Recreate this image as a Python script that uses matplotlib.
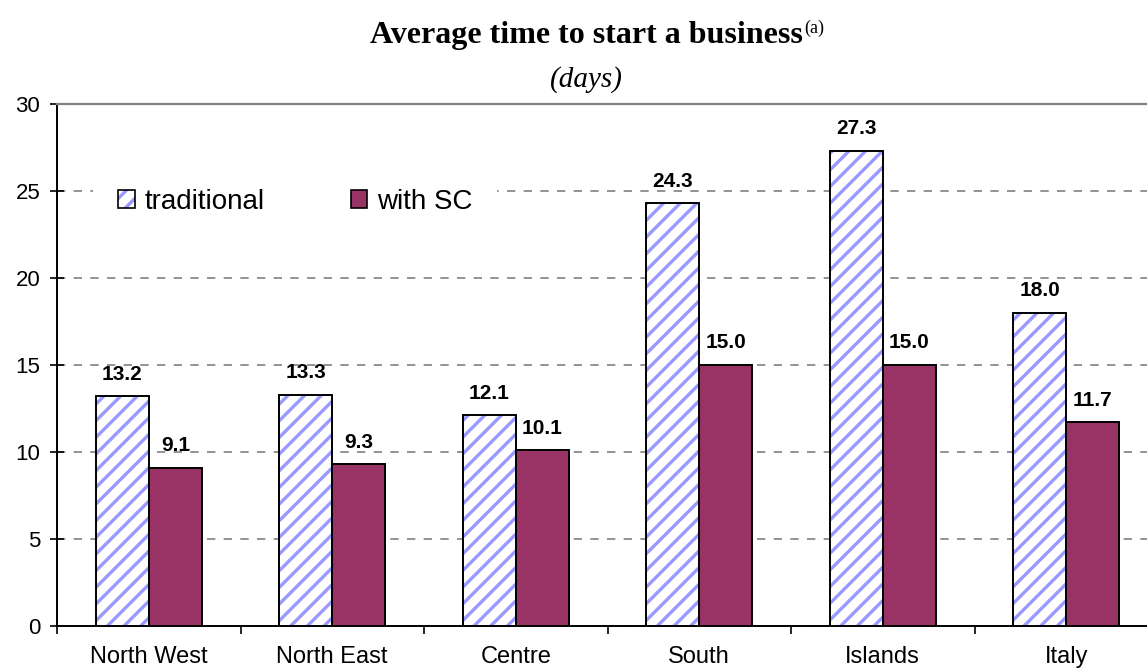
import matplotlib
matplotlib.use('Agg')
import matplotlib.pyplot as plt
from matplotlib.patches import Patch
from matplotlib.legend_handler import HandlerTuple
import numpy as np

# data
regions = ['North West', 'North East', 'Centre', 'South', 'Islands', 'Italy']
traditional = [13.2, 13.3, 12.1, 24.3, 27.3, 18.0]
with_sc = [9.1, 9.3, 10.1, 15.0, 15.0, 11.7]

hatch_blue = '#9999FF'
purple = '#993366'

plt.rcParams['font.family'] = ['Liberation Sans', 'DejaVu Sans']
plt.rcParams['hatch.linewidth'] = 2.4

fig = plt.figure(figsize=(11.47, 6.70), dpi=100)
ax = fig.add_axes([57/1147, 44/670, 1101/1147, 522/670])

x = np.arange(len(regions))
w = 0.29

# hatched bars drawn as two layers: blue hatch, then black outline
ax.bar(x - w/2, traditional, w, color='white', edgecolor=hatch_blue,
       hatch='//', linewidth=0, zorder=3)
ax.bar(x - w/2, traditional, w, fill=False, edgecolor='black',
       linewidth=1.4, zorder=4)
ax.bar(x + w/2, with_sc, w, color=purple, edgecolor='black',
       linewidth=1.4, zorder=3)

for xi, v in zip(x - w/2, traditional):
    ax.annotate(f'{v:.1f}', (xi, v), xytext=(0, 12), textcoords='offset points',
                ha='center', va='baseline', fontsize=15, fontweight='bold')
for xi, v in zip(x + w/2, with_sc):
    ax.annotate(f'{v:.1f}', (xi, v), xytext=(0, 12), textcoords='offset points',
                ha='center', va='baseline', fontsize=15, fontweight='bold')

ax.set_xlim(-0.5, len(regions) - 0.5)
ax.set_ylim(0, 30)
ax.set_yticks(range(0, 31, 5))
ax.yaxis.grid(True, linestyle=(0, (5, 5)), color='#808080', linewidth=1.2)
ax.set_axisbelow(True)

ax.set_xticks(np.arange(-0.5, len(regions), 1))
ax.set_xticklabels([])
ax.set_xticks(x, minor=True)
ax.set_xticklabels(regions, minor=True)
ax.tick_params(axis='x', which='major', direction='out', length=6, width=1.2,
               color='black')
ax.tick_params(axis='x', which='minor', length=0, pad=14.5, labelsize=17)
ax.tick_params(axis='y', direction='inout', length=10, width=1.2, pad=7,
               labelsize=16)

for s in ['left', 'bottom']:
    ax.spines[s].set_linewidth(1.4)
ax.spines['top'].set_color('#808080')
ax.spines['top'].set_linewidth(1.6)
ax.spines['right'].set_visible(False)

# legend
h_trad = (Patch(facecolor='white', edgecolor=hatch_blue, hatch='//', linewidth=0),
          Patch(fill=False, edgecolor='black', linewidth=1.2))
h_sc = Patch(facecolor=purple, edgecolor='black', linewidth=1.2)
leg = ax.legend([h_trad, h_sc], ['traditional', 'with SC'],
                handler_map={tuple: HandlerTuple(ndivide=1, pad=0)},
                ncol=2, fontsize=20, frameon=True, fancybox=False,
                edgecolor='none', facecolor='white', framealpha=1,
                handlelength=0.6, handleheight=0.6, handletextpad=0.35,
                columnspacing=3.1, borderpad=0.9,
                loc='center left', bbox_to_anchor=(22/1101, (626-202)/522),
                bbox_transform=ax.transAxes)
leg.set_zorder(5)

# title
t = fig.text(0.511, 1 - 43/670, 'Average time to start a business',
             ha='center', va='baseline', fontsize=23, fontweight='bold',
             family='Liberation Serif')
ax.annotate('(a)', xy=(1, 1), xycoords=t, xytext=(1, 1),
            textcoords='offset points', ha='left', va='top', fontsize=13,
            family='Liberation Serif')
fig.text(0.511, 1 - 80/670, '(days)', ha='center', va='center', fontsize=21,
         style='italic', family='Liberation Serif')

fig.savefig('out.png', dpi=100)
